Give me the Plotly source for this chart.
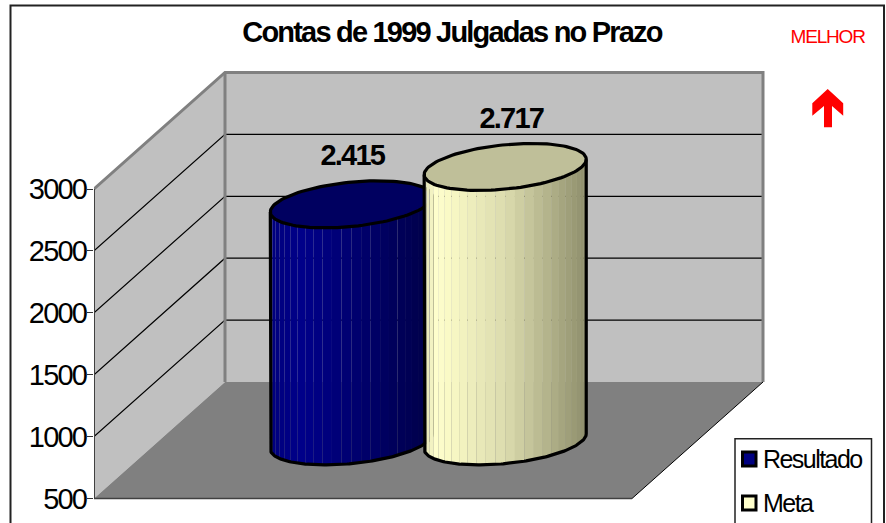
import numpy as np
import plotly.graph_objects as go

# ---------- data ----------
series_names = ["Resultado", "Meta"]
series_values = [2415, 2717]
value_labels = ["2.415", "2.717"]
tick_values = [500, 1000, 1500, 2000, 2500, 3000]
title_text = "Contas de 1999 Julgadas no Prazo"
note_text = "MELHOR"

# ---------- styles / layout ----------
W, H = 886, 523
PLOT_L = 94
FRONT_W = 538          # px width of the front floor edge (x unit)
PX_V = (498.5 - 189) / 2500  # px per value unit
Y0 = 498.5
DX = 131 / FRONT_W     # oblique depth shift in x units
DV = 116.5 / PX_V      # oblique depth shift in value units
V_MIN, V_MAX = tick_values[0], tick_values[-1]
BAR_POS = [0.359, 0.645]
BAR_RX = 76.6 / FRONT_W
BAR_RD = 23.5 / 116.5
BAR_D0 = 0.49
N_SLICES = 26
body_stops = [
    ([-1, -0.6, 1], [(0, 0, 125), (0, 0, 138), (0, 0, 72)]),
    ([-1, -0.85, -0.7, 0, 1], [(225, 225, 180), (255, 255, 205), (250, 250, 198), (220, 220, 175), (143, 143, 108)]),
]
top_colors = ["#000060", "#BFBF99"]
swatch_colors = ["#000080", "#FFFFCC"]
label_xshift = [1, 6.5]
FONT = "Liberation Sans"


def proj(x, v, d):
    return x + d * DX, v + d * DV


def paper(px, py):
    return (px - PLOT_L) / (W - PLOT_L), 1 - py / H


fig = go.Figure()


def poly(xs, ys, fill, line=None, lw=0):
    fig.add_trace(go.Scatter(
        x=xs, y=ys, mode="lines", fill="toself", fillcolor=fill,
        line=dict(color=line or fill, width=lw), showlegend=False, hoverinfo="skip"))


def path(xs, ys, color, lw):
    fig.add_trace(go.Scatter(
        x=xs, y=ys, mode="lines", line=dict(color=color, width=lw),
        showlegend=False, hoverinfo="skip"))


def corners(pts):
    c = [proj(*p) for p in pts]
    return [a for a, _ in c], [b for _, b in c]


GRAY = "#808080"
# left wall, back wall, floor
poly(*corners([(0, V_MAX, 0), (0, V_MAX, 1), (0, V_MIN, 1), (0, V_MIN, 0)]), "#C0C0C0")
poly(*corners([(0, V_MAX, 1), (1, V_MAX, 1), (1, V_MIN, 1), (0, V_MIN, 1)]), "#C0C0C0")
poly(*corners([(0, V_MIN, 0), (0, V_MIN, 1), (1, V_MIN, 1), (1, V_MIN, 0)]), GRAY)

# gridlines
for v in tick_values[1:-1]:
    path(*corners([(0, v, 0), (0, v, 1), (1, v, 1)]), "#000000", 1.2)

# wall borders
path(*corners([(0, V_MAX, 0), (0, V_MAX, 1), (1, V_MAX, 1), (1, V_MIN, 1)]), GRAY, 3)
path(*corners([(0, V_MAX, 1), (0, V_MIN, 1)]), GRAY, 3)
path(*corners([(1, V_MIN, 1), (1, V_MIN, 0)]), "#000000", 1)
path(*corners([(0, V_MIN, 0), (1, V_MIN, 0)]), "#404040", 1.5)
path(*corners([(0, V_MAX, 0), (0, V_MIN, 0)]), "#404040", 2)

# cylinders
T0 = np.arctan2(BAR_RD * DX, BAR_RX)
R_SIL = np.hypot(BAR_RX, BAR_RD * DX)
tt = np.linspace(0, 2 * np.pi, 121)
low_t = np.linspace(T0 + np.pi, T0 + 2 * np.pi, 121)
low_x = BAR_RX * np.cos(low_t) + BAR_RD * DX * np.sin(low_t)
low_v = BAR_RD * DV * np.sin(low_t)

for i, val in enumerate(series_values):
    cx, base_v = proj(BAR_POS[i], V_MIN, BAR_D0)
    h = val - V_MIN
    ax = cx + low_x
    ay = base_v + low_v
    # shaded facets, denser toward the silhouette like a real cylinder
    edges = R_SIL * np.sin(np.linspace(-np.pi / 2, np.pi / 2, N_SLICES + 1))
    for a, b in zip(edges[:-1], edges[1:]):
        u = (a + b) / 2 / R_SIL
        us, cols = body_stops[i]
        col = [np.interp(u, us, [c[k] for c in cols]) for k in range(3)]
        mask = (low_x > a) & (low_x < b)
        sx = np.concatenate([[a], low_x[mask], [b]])
        sv = np.interp(sx, low_x, low_v) + base_v
        poly(list(cx + sx) + list(cx + sx[::-1]), list(sv) + list((sv + h)[::-1]),
             "rgb(%d,%d,%d)" % tuple(col))
    # outline of side and bottom
    path([cx + low_x[0]] + list(ax) + [cx + low_x[-1]],
         [base_v + low_v[0] + h] + list(ay) + [base_v + low_v[-1] + h], "#000000", 3.2)
    # top ellipse
    ex = cx + BAR_RX * np.cos(tt) + BAR_RD * DX * np.sin(tt)
    ey = base_v + h + BAR_RD * DV * np.sin(tt)
    poly(list(ex), list(ey), top_colors[i], "#000000", 3.2)

annotations = []
for i, val in enumerate(series_values):
    cx, v = proj(BAR_POS[i], val, BAR_D0)
    annotations.append(dict(
        x=cx, y=v, xref="x", yref="y", text="<b>%s</b>" % value_labels[i], showarrow=False,
        yshift=49, xshift=label_xshift[i], xanchor="center", yanchor="middle",
        font=dict(family=FONT, size=29, color="#000000")))

# MELHOR
mx, my = paper(827, 36)
annotations.append(dict(x=mx, y=my, xref="paper", yref="paper", text=note_text, showarrow=False,
                        xanchor="center", yanchor="middle",
                        font=dict(family=FONT, size=19, color="#FF0000")))

shapes = []


def px_rect(x0, y0, x1, y1, **kw):
    a, b = paper(x0, y0)
    c, d = paper(x1, y1)
    shapes.append(dict(type="rect", xref="paper", yref="paper", x0=a, y0=b, x1=c, y1=d, **kw))


# frame
px_rect(10.5, 5.5, 884, 560, line=dict(color="#222222", width=2), fillcolor="rgba(0,0,0,0)", layer="below")

# arrow
arrow_px = [(827.7, 89), (843.2, 103.3), (843.2, 115.7), (832, 106), (832, 127.3),
            (824, 127.3), (824, 106), (812.3, 115.7), (812.3, 103.3)]
p = "M " + " L ".join("%f,%f" % paper(*q) for q in arrow_px) + " Z"
shapes.append(dict(type="path", xref="paper", yref="paper", path=p, fillcolor="#FF0000",
                   line=dict(width=0), layer="above"))

# legend box
px_rect(735, 438.7, 871.5, 560, line=dict(color="#222222", width=1.5), fillcolor="#FFFFFF", layer="above")
for i, name in enumerate(series_names):
    yc = [459, 503][i]
    px_rect(742.5, yc - 7, 756, yc + 7, line=dict(color="#000000", width=3), fillcolor=swatch_colors[i], layer="above")
    lx, ly = paper(761, yc)
    annotations.append(dict(x=lx, y=ly, xref="paper", yref="paper", text=name, showarrow=False,
                            xanchor="left", yanchor="middle", align="left",
                            font=dict(family=FONT, size=25, color="#000000")))

y_bottom = V_MIN - (H - Y0) / PX_V
y_top = V_MIN + Y0 / PX_V

fig.update_layout(
    width=W, height=H, margin=dict(l=PLOT_L, r=0, t=0, b=0, pad=0),
    paper_bgcolor="#FFFFFF", plot_bgcolor="rgba(0,0,0,0)", showlegend=False,
    title=dict(text="<b>%s</b>" % title_text, x=452 / W, xanchor="center", xref="container",
               y=1 - 32 / H, yanchor="middle", yref="container",
               font=dict(family=FONT, size=29, color="#000000")),
    xaxis=dict(visible=False, range=[0, (W - PLOT_L) / FRONT_W], fixedrange=True),
    yaxis=dict(range=[y_bottom, y_top], tickvals=tick_values, ticktext=[str(v) for v in tick_values],
               ticks="outside", ticklen=6, tickwidth=1, tickcolor="#333333", showgrid=False,
               zeroline=False, showline=False, fixedrange=True, ticklabelstandoff=-5,
               tickfont=dict(family=FONT, size=29, color="#000000")),
    shapes=shapes, annotations=annotations,
)

post = """
document.body.style.margin = '0';
document.querySelectorAll('svg text').forEach(function (t) {
  var s = parseFloat(window.getComputedStyle(t).fontSize);
  t.style.letterSpacing = (-0.062 * s).toFixed(2) + 'px';
});
"""
fig.write_html("out.html", post_script=post, config=dict(displayModeBar=False))
